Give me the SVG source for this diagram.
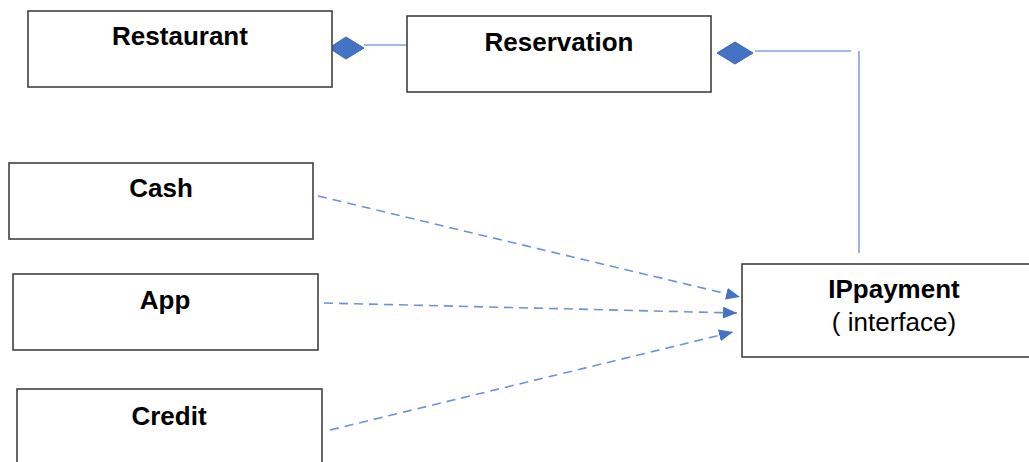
<svg xmlns="http://www.w3.org/2000/svg" width="1029" height="462" viewBox="0 0 1029 462">
<style>
.box{fill:#fff;stroke:#404040;stroke-width:1.6}
.t{font-family:"Liberation Sans",Arial,sans-serif;font-size:26px;fill:#000;text-anchor:middle}
.b{font-weight:bold}
.solid{stroke:#7FA0DC;stroke-width:1.6;fill:none}
.dash{stroke:#6F92D6;stroke-width:1.6;fill:none;stroke-dasharray:9 6}
.dia{fill:#4472C4;stroke:#3A65B3;stroke-width:1}
</style>
<defs>
<marker id="arrw" viewBox="0 0 14 12" refX="14" refY="6" markerWidth="14" markerHeight="12" markerUnits="userSpaceOnUse" orient="auto">
<path d="M0,0 L14,6 L0,12 Z" fill="#4472C4"/>
</marker>
</defs>
<rect width="1029" height="462" fill="#fff"/>
<g id="connectors">
<line class="solid" x1="364" y1="45" x2="409" y2="45"/>
<polygon class="dia" points="329,48 346,37 364,48 346,59"/>
<polyline class="solid" points="755,51 851,51"/>
<line class="solid" x1="859" y1="51" x2="859" y2="253"/>
<polygon class="dia" points="717,53 735,42 753,53 735,64"/>
<line class="dash" x1="318" y1="196" x2="740" y2="297" marker-end="url(#arrw)"/>
<line class="dash" x1="324" y1="303" x2="737" y2="313" marker-end="url(#arrw)"/>
<line class="dash" x1="330" y1="430" x2="733" y2="332" marker-end="url(#arrw)"/>
</g>
<g id="restaurant">
<rect class="box" x="28" y="11" width="304" height="76"/>
<text class="t b" x="180" y="45">Restaurant</text>
</g>
<g id="reservation">
<rect class="box" x="407" y="16" width="304" height="76"/>
<text class="t b" x="559" y="51">Reservation</text>
</g>
<g id="cash">
<rect class="box" x="9" y="163" width="304" height="76"/>
<text class="t b" x="161" y="197">Cash</text>
</g>
<g id="app">
<rect class="box" x="13" y="274" width="305" height="76"/>
<text class="t b" x="165" y="309">App</text>
</g>
<g id="credit">
<rect class="box" x="17" y="389" width="305" height="90"/>
<text class="t b" x="169" y="425">Credit</text>
</g>
<g id="ippayment">
<rect class="box" x="742" y="264" width="290" height="93"/>
<text class="t b" x="894" y="298">IPpayment</text>
<text class="t" x="894" y="331">( interface)</text>
</g>
</svg>
